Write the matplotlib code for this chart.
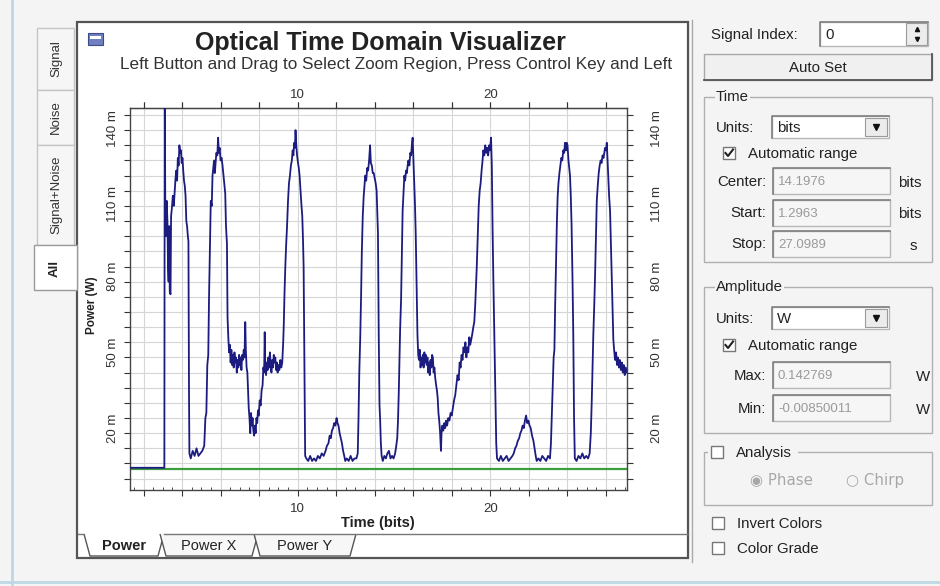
import matplotlib.pyplot as plt
from matplotlib.patches import Rectangle, Polygon

plt.rcParams['font.family'] = ['Liberation Sans', 'DejaVu Sans']

# Power trace: (time in bits, power in mW)
signal_trace = [
    (1.2963, 0.3), (3.08, 0.3), (3.10, 150), (3.13, 100), (3.17, 92), (3.20, 106), (3.24, 98),
    (3.27, 80), (3.30, 74), (3.33, 96), (3.36, 70), (3.40, 69), (3.43, 100), (3.47, 103),
    (3.52, 108), (3.57, 104), (3.62, 110), (3.66, 115), (3.70, 118), (3.74, 114), (3.78, 123),
    (3.82, 120), (3.86, 128), (3.90, 125), (3.94, 126), (3.98, 121), (4.02, 123), (4.06, 118),
    (4.10, 114), (4.14, 112), (4.18, 108), (4.22, 98), (4.26, 96), (4.30, 92), (4.33, 90),
    (4.36, 30), (4.38, 6), (4.45, 4), (4.55, 7), (4.65, 5), (4.75, 8), (4.85, 5), (4.95, 6),
    (5.05, 7), (5.15, 9), (5.21, 20), (5.26, 22), (5.31, 41), (5.36, 45), (5.40, 68), (5.45, 90),
    (5.49, 106), (5.54, 104), (5.58, 116), (5.62, 119), (5.66, 122), (5.70, 117), (5.74, 121),
    (5.78, 125), (5.83, 124), (5.87, 131), (5.91, 125), (5.95, 127), (6.00, 122), (6.05, 123),
    (6.10, 120), (6.15, 116), (6.20, 112), (6.24, 109), (6.28, 96), (6.33, 89), (6.36, 60),
    (6.40, 52), (6.44, 46), (6.48, 49), (6.52, 42), (6.56, 47), (6.60, 41), (6.64, 45),
    (6.68, 40), (6.72, 46), (6.76, 42), (6.80, 44), (6.84, 38), (6.88, 43), (6.92, 40),
    (6.96, 45), (7.00, 41), (7.04, 44), (7.08, 39), (7.12, 45), (7.16, 43), (7.20, 47),
    (7.24, 44), (7.28, 58), (7.31, 47), (7.35, 40), (7.39, 38), (7.43, 30), (7.46, 24),
    (7.50, 20), (7.54, 14), (7.58, 22), (7.62, 17), (7.66, 20), (7.70, 15), (7.74, 13),
    (7.78, 17), (7.82, 14), (7.86, 20), (7.90, 18), (7.94, 23), (7.98, 21), (8.03, 27),
    (8.08, 25), (8.13, 31), (8.18, 33), (8.22, 40), (8.26, 38), (8.29, 54), (8.32, 40),
    (8.36, 37), (8.40, 42), (8.44, 39), (8.48, 44), (8.52, 40), (8.56, 46), (8.60, 41),
    (8.64, 38), (8.68, 43), (8.72, 40), (8.76, 45), (8.80, 42), (8.84, 44), (8.88, 39),
    (8.92, 42), (8.96, 38), (9.00, 41), (9.05, 39), (9.10, 43), (9.15, 40), (9.20, 42),
    (9.25, 50), (9.28, 57), (9.32, 70), (9.36, 80), (9.40, 88), (9.45, 96), (9.50, 106),
    (9.55, 113), (9.60, 116), (9.65, 120), (9.70, 122), (9.74, 126), (9.78, 124), (9.82, 129),
    (9.86, 127), (9.89, 134), (9.93, 128), (9.97, 124), (10.02, 121), (10.06, 119), (10.10, 116),
    (10.15, 110), (10.20, 104), (10.24, 100), (10.28, 90), (10.31, 80), (10.35, 40), (10.39, 5),
    (10.45, 4), (10.55, 3), (10.65, 5), (10.75, 3), (10.85, 4), (10.95, 3), (11.05, 5),
    (11.15, 4), (11.25, 6), (11.35, 5), (11.45, 7), (11.52, 9), (11.60, 10), (11.66, 13),
    (11.72, 12), (11.78, 15), (11.84, 16), (11.90, 18), (11.96, 17), (12.02, 20), (12.07, 18),
    (12.12, 17), (12.18, 14), (12.24, 12), (12.30, 10), (12.36, 7), (12.42, 5), (12.47, 3),
    (12.55, 4), (12.65, 3), (12.75, 5), (12.85, 3), (12.95, 4), (13.05, 4), (13.12, 6),
    (13.16, 20), (13.20, 38), (13.25, 52), (13.29, 67), (13.33, 85), (13.38, 100), (13.43, 108),
    (13.47, 112), (13.51, 116), (13.56, 114), (13.61, 119), (13.66, 118), (13.71, 122),
    (13.76, 128), (13.80, 121), (13.85, 120), (13.90, 117), (13.95, 117), (14.00, 115),
    (14.05, 113), (14.10, 110), (14.14, 100), (14.17, 93), (14.21, 53), (14.25, 25),
    (14.28, 20), (14.32, 10), (14.36, 5), (14.42, 3), (14.50, 5), (14.58, 4), (14.66, 6),
    (14.74, 7), (14.82, 4), (14.90, 5), (14.98, 4), (15.06, 6), (15.12, 9), (15.17, 12),
    (15.21, 19), (15.25, 30), (15.28, 40), (15.32, 55), (15.37, 67), (15.41, 85), (15.45, 102),
    (15.50, 110), (15.54, 116), (15.58, 114), (15.63, 118), (15.67, 117), (15.71, 120),
    (15.75, 122), (15.80, 120), (15.85, 125), (15.89, 124), (15.93, 128), (15.97, 131),
    (16.01, 122), (16.05, 114), (16.09, 105), (16.13, 93), (16.18, 70), (16.22, 53),
    (16.26, 45), (16.30, 43), (16.34, 47), (16.38, 40), (16.42, 44), (16.46, 41), (16.50, 45),
    (16.54, 40), (16.58, 46), (16.62, 42), (16.66, 45), (16.70, 41), (16.74, 44), (16.78, 38),
    (16.82, 42), (16.86, 37), (16.90, 43), (16.94, 40), (16.98, 45), (17.02, 44), (17.06, 38),
    (17.10, 40), (17.14, 36), (17.19, 33), (17.23, 31), (17.27, 28), (17.31, 22), (17.35, 19),
    (17.39, 15), (17.42, 10), (17.44, 7), (17.47, 14), (17.51, 17), (17.56, 15), (17.61, 18),
    (17.66, 16), (17.71, 19), (17.76, 17), (17.82, 20), (17.88, 19), (17.94, 22), (18.00, 21),
    (18.06, 24), (18.12, 27), (18.18, 29), (18.24, 33), (18.30, 37), (18.36, 35), (18.41, 42),
    (18.46, 40), (18.51, 45), (18.56, 43), (18.61, 48), (18.66, 46), (18.71, 50), (18.76, 44),
    (18.81, 48), (18.86, 46), (18.91, 52), (18.96, 49), (19.01, 51), (19.06, 53), (19.12, 56),
    (19.17, 58), (19.22, 65), (19.26, 72), (19.30, 80), (19.35, 92), (19.40, 104), (19.45, 110),
    (19.50, 113), (19.55, 118), (19.60, 122), (19.64, 126), (19.69, 124), (19.74, 128),
    (19.79, 125), (19.84, 127), (19.89, 124), (19.94, 128), (19.99, 126), (20.04, 131),
    (20.08, 120), (20.12, 95), (20.16, 75), (20.21, 53), (20.26, 30), (20.31, 10), (20.35, 4),
    (20.45, 3), (20.55, 5), (20.65, 3), (20.75, 4), (20.85, 5), (20.95, 3), (21.05, 4),
    (21.15, 5), (21.22, 6), (21.29, 8), (21.36, 9), (21.43, 11), (21.50, 12), (21.56, 14),
    (21.62, 15), (21.68, 17), (21.74, 16), (21.80, 19), (21.86, 21), (21.92, 18), (21.98, 19),
    (22.04, 17), (22.10, 16), (22.17, 13), (22.24, 11), (22.30, 8), (22.36, 5), (22.41, 3),
    (22.50, 4), (22.60, 3), (22.70, 5), (22.80, 4), (22.90, 3), (23.00, 5), (23.10, 4),
    (23.15, 10), (23.19, 20), (23.24, 32), (23.29, 44), (23.33, 47), (23.37, 65), (23.41, 80),
    (23.46, 98), (23.50, 108), (23.54, 113), (23.59, 117), (23.64, 120), (23.69, 123),
    (23.74, 122), (23.79, 126), (23.84, 125), (23.88, 129), (23.93, 126), (23.97, 129),
    (24.01, 128), (24.06, 122), (24.10, 119), (24.14, 116), (24.18, 108), (24.22, 97),
    (24.27, 75), (24.31, 53), (24.35, 20), (24.39, 4), (24.48, 3), (24.58, 5), (24.68, 4),
    (24.78, 6), (24.88, 4), (24.98, 5), (25.08, 4), (25.16, 6), (25.22, 14), (25.27, 27),
    (25.31, 40), (25.35, 53), (25.40, 65), (25.44, 76), (25.49, 92), (25.53, 106), (25.58, 112),
    (25.63, 117), (25.68, 120), (25.73, 122), (25.78, 121), (25.83, 124), (25.88, 123),
    (25.92, 125), (25.96, 127), (26.01, 126), (26.05, 129), (26.09, 122), (26.13, 116),
    (26.17, 108), (26.22, 102), (26.26, 90), (26.31, 76), (26.35, 62), (26.39, 51), (26.43, 47),
    (26.48, 43), (26.53, 46), (26.58, 41), (26.63, 44), (26.68, 40), (26.73, 43), (26.78, 39),
    (26.83, 42), (26.88, 38), (26.93, 41), (26.98, 37), (27.03, 40), (27.0989, 38),
]

# flat green trace (noise power)
noise_t = [1.2963, 27.0989]
noise_mw = [0.0, 0.0]

# axis ranges from the side panel
t_start, t_stop = 1.2963, 27.0989
p_min, p_max = -0.00850011, 0.142769

x_ticks = [2, 4, 6, 8, 10, 12, 14, 16, 18, 20, 22, 24, 26]
x_labels = {10: '10', 20: '20'}
y_ticks_mw = [-4, 2, 8, 14, 20, 26, 32, 38, 44, 50, 56, 62, 68, 74, 80, 86, 92, 98,
              104, 110, 116, 122, 128, 134, 140]
y_labels = {20: '20 m', 50: '50 m', 80: '80 m', 110: '110 m', 140: '140 m'}

UI_FS = 10.8
INK = '#222222'

fig = plt.figure(figsize=(9.4, 5.86), dpi=100)
fig.patch.set_facecolor('#f4f4f4')

# GUI layer in pixel coordinates (y down)
gui = fig.add_axes([0, 0, 1, 1])
gui.set_xlim(0, 940)
gui.set_ylim(586, 0)
gui.axis('off')
gui.set_zorder(0)

gui.plot([12, 12], [0, 586], color='#bcd8e4', lw=2)
gui.plot([0, 940], [582, 582], color='#bcd8e4', lw=2)

# chart window
gui.add_patch(Rectangle((77, 22), 611, 536, facecolor='white', edgecolor='#555555', lw=1.6))
gui.plot([692, 692], [20, 562], color='#aaaaaa', lw=1)
gui.add_patch(Rectangle((88, 33), 15, 12, facecolor='#6f7fc0', edgecolor='#3a4a8a', lw=0.8))
gui.add_patch(Rectangle((90, 36), 11, 3, facecolor='white', edgecolor='none'))
gui.text(380, 43, 'Optical Time Domain Visualizer', ha='center', va='center',
         fontsize=18, fontweight='bold', color=INK)
gui.text(120, 65, 'Left Button and Drag to Select Zoom Region, Press Control Key and Left',
         ha='left', va='center', fontsize=12.3, color='#333333')
gui.text(92, 305, 'Power (W)', ha='center', va='center', rotation=90,
         fontsize=8.5, fontweight='bold', color=INK)
gui.text(378, 523, 'Time (bits)', ha='center', va='center',
         fontsize=10.5, fontweight='bold', color=INK)

# left vertical tabs
left_tabs = [('Signal', 28, 90), ('Noise', 90, 145), ('Signal+Noise', 145, 245)]
for name, y0, y1 in left_tabs:
    gui.add_patch(Rectangle((37, y0), 37, y1 - y0, facecolor='#f6f6f6', edgecolor='#c4c4c4', lw=1))
    gui.text(56, (y0 + y1) / 2, name, rotation=90, ha='center', va='center',
             fontsize=9.5, color='#333333')
gui.add_patch(Rectangle((34, 245), 43, 45, facecolor='white', edgecolor='#9a9a9a', lw=1))
gui.text(55, 268, 'All', rotation=90, ha='center', va='center', fontsize=9.5,
         fontweight='bold', color=INK)

# bottom tabs
gui.plot([78, 84], [534, 534], color='#777777', lw=1)
gui.plot([164, 688], [534, 534], color='#777777', lw=1)
bottom_tabs = [('Power', 84, 164, True), ('Power X', 160, 258, False), ('Power Y', 254, 356, False)]
for name, x0, x1, active in bottom_tabs:
    pts = [(x0, 534), (x0 + 6, 556), (x1 - 6, 556), (x1, 534)]
    gui.add_patch(Polygon(pts, closed=False, facecolor='white' if active else '#f7f7f7',
                          edgecolor='#555555', lw=1))
    gui.text((x0 + x1) / 2, 546, name, ha='center', va='center', fontsize=10.5,
             fontweight='bold' if active else 'normal', color=INK)


# right control panel
def field(x0, y0, x1, y1, text, grey=True):
    gui.add_patch(Rectangle((x0, y0), x1 - x0, y1 - y0,
                            facecolor='#f6f6f6' if grey else 'white', edgecolor='#b8b8b8', lw=1))
    gui.plot([x0, x0, x1], [y1, y0, y0], color='#808080', lw=1.2)
    gui.text(x0 + 5, (y0 + y1) / 2 + 1, text, ha='left', va='center',
             fontsize=9.5 if grey else UI_FS, color='#9a9a9a' if grey else INK)


def combo(x0, y0, x1, y1, text):
    field(x0, y0, x1, y1, text, grey=False)
    gui.add_patch(Rectangle((x1 - 24, y0 + 2), 22, y1 - y0 - 4, facecolor='#ececec',
                            edgecolor='#9a9a9a', lw=0.8))
    gui.plot([x1 - 13], [(y0 + y1) / 2], marker='v', ms=4, color='#111111')


def label(x, y, text, ha='left', color=INK):
    gui.text(x, y, text, ha=ha, va='center', fontsize=UI_FS, color=color)


def checkbox(x, y, checked, text):
    gui.add_patch(Rectangle((x, y - 6), 12, 12, facecolor='white', edgecolor='#777777', lw=1))
    if checked:
        gui.plot([x + 2.5, x + 5, x + 10], [y, y + 3, y - 3.5], color=INK, lw=1.5)
    label(x + 25, y + 1, text)


def group(x0, y0, x1, y1, title, tx):
    gui.add_patch(Rectangle((x0, y0), x1 - x0, y1 - y0, facecolor='none', edgecolor='#b0b0b0', lw=1))
    gui.text(tx, y0, title, ha='left', va='center', fontsize=UI_FS, color=INK,
             bbox=dict(facecolor='#f4f4f4', edgecolor='none', pad=1))


label(711, 35, 'Signal Index:')
field(820, 22, 928, 46, '0', grey=False)
gui.add_patch(Rectangle((906, 23), 21, 22, facecolor='#ececec', edgecolor='#9a9a9a', lw=0.8))
gui.plot([916.5], [29], marker='^', ms=3, color='#111111')
gui.plot([916.5], [39], marker='v', ms=3, color='#111111')

gui.add_patch(Rectangle((704, 54), 228, 26, facecolor='#f0f0f0', edgecolor='#a8a8a8', lw=1))
gui.plot([704, 932, 932], [80, 80, 54], color='#555555', lw=1.3)
label(818, 68, 'Auto Set', ha='center')

group(704, 97, 932, 262, 'Time', 716)
label(716, 128, 'Units:')
combo(772, 116, 889, 138, 'bits')
checkbox(723, 153, True, 'Automatic range')
label(766, 182, 'Center:', ha='right')
field(773, 168, 890, 194, '14.1976')
label(898, 183, 'bits')
label(766, 213, 'Start:', ha='right')
field(773, 200, 890, 226, '1.2963')
label(898, 214, 'bits')
label(766, 244, 'Stop:', ha='right')
field(773, 231, 890, 257, '27.0989')
label(910, 246, 's')

group(704, 287, 932, 433, 'Amplitude', 716)
label(716, 319, 'Units:')
combo(772, 307, 889, 329, 'W')
checkbox(723, 345, True, 'Automatic range')
label(766, 376, 'Max:', ha='right')
field(773, 362, 890, 388, '0.142769')
label(916, 377, 'W')
label(766, 409, 'Min:', ha='right')
field(773, 395, 890, 421, '-0.00850011')
label(916, 410, 'W')

gui.add_patch(Rectangle((704, 452), 228, 53, facecolor='none', edgecolor='#b0b0b0', lw=1))
gui.add_patch(Rectangle((708, 444), 90, 16, facecolor='#f4f4f4', edgecolor='none'))
checkbox(711, 452, False, 'Analysis')
gui.text(750, 480, '◉ Phase', ha='left', va='center', fontsize=UI_FS, color='#a8a8a8',
         family=['DejaVu Sans'])
gui.text(846, 480, '○ Chirp', ha='left', va='center', fontsize=UI_FS, color='#a8a8a8',
         family=['DejaVu Sans'])
checkbox(712, 523, False, 'Invert Colors')
checkbox(712, 548, False, 'Color Grade')

# chart axes
ax = fig.add_axes([130 / 940, 1 - 490 / 586, 497 / 940, 382 / 586])
ax.set_zorder(2)
ax.set_facecolor('white')

t_sig, p_sig = zip(*signal_trace)
ax.plot(noise_t, [v / 1000 for v in noise_mw], color='#3c9e3c', lw=1.6, zorder=2)
ax.plot(t_sig, [v / 1000 for v in p_sig], color='#1c1c80', lw=1.3, zorder=3)

ax.set_xlim(t_start, t_stop)
ax.set_ylim(p_min, p_max)

ax.set_xticks(x_ticks)
ax.set_xticklabels([x_labels.get(t, '') for t in x_ticks])
ax.set_xticks([v / 2 for v in range(3, 55)], minor=True)
ax.set_yticks([v / 1000 for v in y_ticks_mw])
ax.set_yticklabels([y_labels.get(v, '') for v in y_ticks_mw])
ax.tick_params(axis='x', which='major', top=True, direction='out', length=4,
               width=0.8, color='#333333', labelsize=9.5, labelcolor='#333333', pad=5)
ax.tick_params(axis='x', which='minor', top=False, direction='in', length=2, width=0.6,
               color='#333333')
ax.tick_params(axis='y', direction='out', length=4, width=0.8, color='#333333', labelsize=9.5,
               labelcolor='#333333', labelrotation=90, pad=4)
ax.grid(True, which='major', color='#d6d6d6', lw=0.8)
ax.set_axisbelow(True)
for s in ax.spines.values():
    s.set_color('#444444')
    s.set_linewidth(1)

top = ax.secondary_xaxis('top')
top.set_xticks(x_ticks)
top.set_xticklabels([x_labels.get(t, '') for t in x_ticks])
top.tick_params(direction='out', length=4, width=0.8, color='#333333', labelsize=9.5,
                labelcolor='#333333', pad=1)

ax2 = ax.twinx()
ax2.set_ylim(p_min, p_max)
ax2.set_yticks([v / 1000 for v in y_ticks_mw])
ax2.set_yticklabels([y_labels.get(v, '') for v in y_ticks_mw])
ax2.tick_params(axis='y', direction='out', length=4, width=0.8, color='#333333', labelsize=9.5,
                labelcolor='#333333', labelrotation=90, pad=13)
for s in ax2.spines.values():
    s.set_visible(False)

fig.savefig('out.png', dpi=100, facecolor=fig.get_facecolor())
